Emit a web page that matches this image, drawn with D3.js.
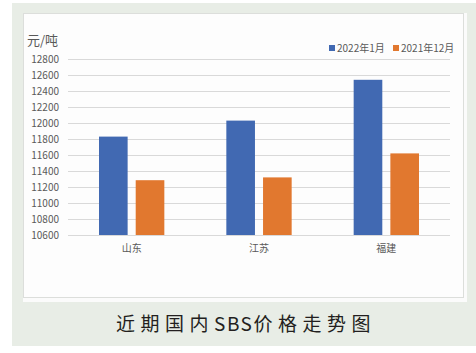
<!DOCTYPE html>
<html><head><meta charset="utf-8">
<script src="https://cdn.jsdelivr.net/npm/d3@7/dist/d3.min.js"></script>
<style>html,body{margin:0;padding:0;background:#fff;}svg{display:block;}</style>
</head><body>
<script>
const categories = ["山东", "江苏", "福建"];
const seriesNames = ["2022年1月", "2021年12月"];
const jan2022 = [11830, 12030, 12540];
const dec2021 = [11285, 11320, 11620];
const yTicks = [10600, 10800, 11000, 11200, 11400, 11600, 11800, 12000, 12200, 12400, 12600, 12800];
const unitLabel = "元/吨";
const titleParts = ["近期国内", "SBS", "价格走势图"];

const W = 476, H = 353;
const colors = ["#4169b2", "#e1782f"];
const svg = d3.select("body").append("svg").attr("width", W).attr("height", H);
const font = "'Noto Sans CJK SC','Noto Sans',sans-serif";

// outer panel
svg.append("rect").attr("x", 12).attr("y", 3).attr("width", 464).attr("height", 343).attr("fill", "#e8ede6");
// inner card
svg.append("rect").attr("x", 23).attr("y", 13).attr("width", 444).attr("height", 289).attr("fill", "#fbfbfb");
svg.append("rect").attr("x", 23.5).attr("y", 13.5).attr("width", 440).attr("height", 284).attr("fill", "#fdfdfd").attr("stroke", "#dcdedb");

const x0 = d3.scaleBand().domain(categories).range([68, 450]).paddingInner(0).paddingOuter(0);
const x1 = d3.scaleBand().domain(seriesNames).range([31, x0.bandwidth() - 31]).paddingInner(0.22);
const y = d3.scaleLinear().domain([10600, 12800]).range([235, 59]);

// gridlines
svg.append("g").selectAll("line").data(yTicks).join("line")
  .attr("x1", 68).attr("x2", 450)
  .attr("y1", d => Math.round(y(d)) + 0.5).attr("y2", d => Math.round(y(d)) + 0.5)
  .attr("stroke", "#d9d9d9").attr("stroke-width", 1);

// y axis labels
const yAxis = d3.axisLeft(y).tickValues(yTicks).tickSize(0).tickPadding(0).tickFormat(d3.format("d"));
const ya = svg.append("g").attr("transform", "translate(59,0)").call(yAxis);
ya.select(".domain").remove();
ya.selectAll("text").attr("font-family", font).attr("font-size", 10).attr("fill", "#595959");

// bars
const data = categories.map((c, i) => ({c, vals: [jan2022[i], dec2021[i]]}));
const g = svg.append("g").selectAll("g").data(data).join("g")
  .attr("transform", d => `translate(${x0(d.c)},0)`);
g.selectAll("rect").data(d => d.vals.map((v, j) => ({s: seriesNames[j], v, j}))).join("rect")
  .attr("x", d => x1(d.s)).attr("width", x1.bandwidth())
  .attr("y", d => y(d.v)).attr("height", d => y(10600) - y(d.v))
  .attr("fill", d => colors[d.j]);

// x axis
const xAxis = d3.axisBottom(x0).tickSize(0).tickPadding(0);
const xa = svg.append("g").attr("transform", "translate(0,245)").call(xAxis);
xa.select(".domain").remove();
xa.selectAll("text").attr("font-family", font).attr("font-size", 10).attr("fill", "#595959");

// unit
svg.append("text").attr("x", 27).attr("y", 45).text(unitLabel)
  .attr("font-family", font).attr("font-size", 13).attr("fill", "#595959");

// legend
const legX = [329, 393];
seriesNames.forEach((s, i) => {
  svg.append("rect").attr("x", legX[i]).attr("y", 45).attr("width", 6).attr("height", 6).attr("fill", colors[i]);
  svg.append("text").attr("x", legX[i] + 8).attr("y", 52).text(s)
    .attr("font-family", font).attr("font-size", 10).attr("fill", "#595959");
});

// title
const t = svg.append("text").attr("x", 246).attr("y", 331).attr("text-anchor", "middle")
  .attr("font-family", font).attr("font-size", 19).attr("fill", "#231f20");
const spacings = [5.5, 1.5, 5.5];
titleParts.forEach((p, i) => {
  t.append("tspan").attr("letter-spacing", spacings[i]).text(p);
});
</script>
</body></html>
